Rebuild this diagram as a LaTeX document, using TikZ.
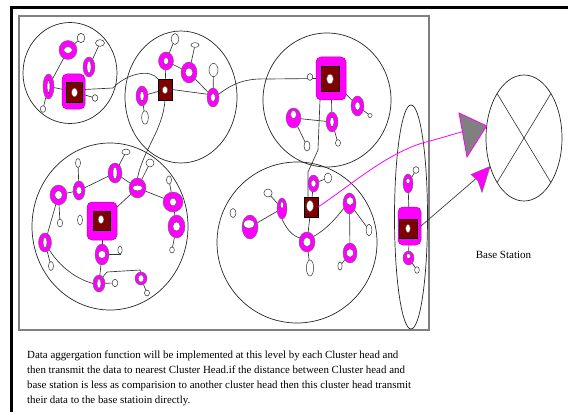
\documentclass[tikz,border=0pt]{standalone}
\usepackage{fontspec}
\setmainfont{Liberation Serif}
\usetikzlibrary{shapes.geometric,calc}
\definecolor{chred}{HTML}{800000}
\definecolor{pk}{HTML}{FF00FF}
\definecolor{ln}{HTML}{333333}
\pgfdeclarelayer{bg}
\pgfsetlayers{bg,main}
\tikzset{
  clus/.style={ellipse, draw=black!85, line width=0.7pt, inner sep=0pt, outer sep=0pt},
  pnk/.style={ellipse, draw=black!60, fill=pk, line width=0.4pt, inner sep=0pt, outer sep=0pt},
  hole/.style={ellipse, draw=black!70, fill=white, line width=0.4pt, inner sep=0pt, outer sep=0pt},
  sml/.style={ellipse, draw=black!80, fill=white, line width=0.5pt, inner sep=0pt, outer sep=0pt},
  chp/.style={rectangle, rounded corners=5pt, fill=pk, draw=pk!70!black, line width=0.5pt, inner sep=0pt, outer sep=0pt},
  chr/.style={rectangle, fill=chred, draw=black, line width=0.5pt, inner sep=0pt, outer sep=0pt},
  lnk/.style={draw=ln, line width=0.65pt},
  txt/.style={font=\fontsize{10.9}{13}\selectfont, inner sep=0pt, anchor=base west},
}
\newcommand\PN[9]{\node[pnk,minimum width=#4pt,minimum height=#5pt] (#1) at (#2,#3) {};\node[hole,minimum width=#8pt,minimum height=#9pt] (#1h) at (#6,#7) {};}
\newcommand\SN[5]{\node[sml,minimum width=#4pt,minimum height=#5pt] (#1) at (#2,#3) {};}
\begin{document}
\begin{tikzpicture}[x=1pt,y=-1pt]
\useasboundingbox (0,0) rectangle (568,412);
% frames
\draw[line width=2.5pt] (11.3,415) -- (11.3,7.3) -- (570,7.3);
\draw[gray, line width=1.2pt] (19,16) rectangle (429,330);
% cluster circles
\node[clus, minimum width=94pt, minimum height=101pt] (c1) at (70,73) {};
\node[clus, minimum width=112pt, minimum height=132pt] (c2) at (181,97) {};
\node[clus, minimum width=128pt, minimum height=134pt] (c3) at (327,100) {};
\node[clus, minimum width=156pt, minimum height=167pt] (c4) at (110,226.5) {};
\node[clus, minimum width=160pt, minimum height=161pt] (c5) at (297,242.5) {};
\node[clus, minimum width=33pt, minimum height=224pt] (c6) at (411,217) {};
% base station
\node[clus, minimum width=76pt, minimum height=126pt] (bs) at (524,138) {};
\draw[ln, line width=0.6pt] ($(bs.center)+(-26.9,-44.5)$) -- ($(bs.center)+(26.9,44.5)$);
\draw[ln, line width=0.6pt] ($(bs.center)+(26.9,-44.5)$) -- ($(bs.center)+(-26.9,44.5)$);
\node[font=\fontsize{11}{13}\selectfont, inner sep=0pt, anchor=base] (bst) at (503.5,258.5) {Base Station};

% ---- cluster 1
\node[chp, minimum width=23pt, minimum height=35pt] (ch1) at (73.5,91.5) {};
\node[chr, minimum width=16pt, minimum height=20pt] (ch1r) at (74,92) {};
\node[hole, minimum width=6pt, minimum height=9pt] (ch1h) at (74.5,92.5) {};
\PN{a1}{68}{50}{18}{19}{68}{50}{8.7}{6.7}
\PN{a2}{89}{67}{12}{20}{89}{67}{4}{13}
\PN{a3}{48.5}{86.5}{11}{25}{48.5}{86.5}{2.7}{12.7}
\SN{sa1}{81}{38}{7.7}{9.3}
\SN{sa2}{100}{43}{9}{6.7}
\SN{sa3}{95}{98}{5.7}{6.7}
\SN{sa4}{43}{109}{5.3}{6.7}
% ---- cluster 2
\node[chr, minimum width=14pt, minimum height=21pt] (ch2) at (165,89.5) {};
\node[hole, minimum width=5.3pt, minimum height=7.3pt] (ch2h) at (165,90) {};
\PN{b1}{166}{61}{15}{18}{166}{61}{5}{7}
\PN{b2}{189}{72.5}{16}{21}{189}{72.5}{7.7}{9}
\PN{b3}{142}{96}{12}{20}{142}{96}{4}{10}
\PN{b4}{213}{97.5}{12}{19}{213}{97.5}{4.7}{8}
\SN{sb1}{175}{39}{7.7}{11}
\SN{sb2}{195}{45}{8.3}{4.7}
\SN{sb3}{213.5}{70}{9}{13.3}
\SN{sb4}{145}{117.5}{6.7}{13.3}
% ---- cluster 3
\node[chp, minimum width=30pt, minimum height=43pt] (ch3) at (331,78.5) {};
\node[chr, minimum width=18pt, minimum height=25pt] (ch3r) at (330,78.5) {};
\node[hole, minimum width=6.7pt, minimum height=10pt] (ch3h) at (330,79) {};
\PN{e1}{357.5}{106}{13}{20}{357.5}{106}{5.3}{8.3}
\PN{e2}{293.5}{118}{15}{20}{293.5}{114.5}{5.7}{8.3}
\PN{e3}{332}{122}{12}{20}{332}{122}{4}{10}
\SN{se0}{310}{77}{5.7}{6.7}
\SN{se1}{370}{115.5}{4.3}{4}
\SN{se2}{307}{146}{6}{10}
\SN{se3}{338}{143}{5}{6.7}
% ---- cluster 4
\node[chp, minimum width=30pt, minimum height=38pt] (ch4) at (102,221) {};
\node[chr, minimum width=17pt, minimum height=19pt] (ch4r) at (101.5,220.5) {};
\node[hole, minimum width=5.7pt, minimum height=8.3pt] (ch4h) at (101,219.5) {};
\PN{d1}{58.5}{195}{17}{20}{58.5}{195}{7.7}{8.7}
\PN{d2}{79}{190.5}{12}{19}{79}{190.5}{5.7}{7.7}
\PN{d3}{115}{173}{14}{20}{115}{173}{4}{12.7}
\PN{d4}{137.5}{188}{17}{20}{137.5}{188}{10}{5.7}
\PN{d5}{173}{202}{20}{20}{173}{202}{6.7}{7.7}
\PN{d6}{176.5}{226.5}{17}{23}{176.5}{226.5}{7.3}{9}
\PN{d7}{102}{254.5}{14}{21}{102}{254.5}{7.7}{7.7}
\PN{d8}{45}{242.5}{13}{19}{45}{242.5}{4}{10.7}
\PN{d9}{99}{283.5}{12}{17}{99}{283.5}{4}{10}
\PN{d10}{141}{278.5}{12}{13}{141}{278.5}{5.7}{7.3}
\SN{sd1}{78}{163}{5}{9}
\SN{sd2}{126}{152}{8.3}{5.7}
\SN{sd3}{150}{163}{8}{8}
\SN{sd4}{169}{180}{5}{8.3}
\SN{sd5}{60}{223}{5.3}{8}
\SN{sd6}{80}{220}{5}{10}
\SN{sd7}{120}{250}{4.3}{8}
\SN{sd8}{172}{250}{4.7}{6}
\SN{sd9}{51}{266}{5}{9}
\SN{sd10}{115}{283}{5.7}{7.3}
\SN{sd11}{147}{293}{5}{6}
% ---- cluster 5
\node[chr, minimum width=14pt, minimum height=20pt] (ch5) at (311,207) {};
\node[hole, minimum width=6.7pt, minimum height=11.7pt] (ch5h) at (310,206) {};
\PN{f1}{313.5}{183.5}{11}{17}{313.5}{183.5}{5}{7.3}
\PN{f2}{282}{208.5}{10}{21}{282}{205}{3.3}{6.7}
\PN{f3}{250}{227}{16}{24}{249}{224}{11.7}{8.3}
\PN{f4}{307}{242}{16}{20}{307}{242}{7.7}{9}
\PN{f5}{349.5}{203.5}{13}{21}{350}{201}{7.3}{8.3}
\PN{f6}{350}{253}{14}{20}{350}{253}{7.3}{8.3}
\SN{sf1}{328}{178}{7.7}{10}
\SN{sf2}{268}{193}{8.3}{8}
\SN{sf3}{233}{213}{6}{9}
\SN{sf4}{310}{268}{7.3}{16}
\SN{sf5}{369}{230}{5.7}{11.7}
\SN{sf6}{340}{266}{4.3}{8.3}
% ---- cluster 6
\node[chp, minimum width=23pt, minimum height=38pt] (ch6) at (409.5,226) {};
\node[chr, minimum width=18pt, minimum height=19pt] (ch6r) at (408,228.5) {};
\node[hole, minimum width=4.7pt, minimum height=8.3pt] (ch6h) at (408,228.5) {};
\PN{g1}{408}{183.5}{10}{19}{408}{181}{4}{5}
\PN{g2}{408.5}{258}{11}{14}{408.5}{256}{4}{5}
\SN{sg1}{416}{170}{6}{6.7}
\SN{sg2}{417}{270}{4.7}{6.7}

% ---- links
\begin{pgfonlayer}{bg}
% cluster 1
\draw[lnk] (ch1) -- (a3);
\draw[lnk] (a3) -- (a1);
\draw[lnk] (a1) -- (sa1);
\draw[lnk] (a2) -- (sa2);
\draw[lnk] (a2) -- (ch1);
\draw[lnk] (ch1) -- (sa3);
\draw[lnk] (a3) -- (sa4);
\draw[lnk] (ch1.10) -- (113,88) .. controls (126,74) and (150,68) .. (ch2.north west);
% cluster 2
\draw[lnk] (ch2) -- (b3);
\draw[lnk] (ch2) -- (b1);
\draw[lnk] (b1) -- (sb1);
\draw[lnk] (b1) -- (b2);
\draw[lnk] (ch2.east) -- (b4.150);
\draw[lnk] (b2) -- (sb2);
\draw[lnk] (b2) -- (b4);
\draw[lnk] (sb3) -- (b4);
\draw[lnk] (b3) -- (sb4);
\draw[lnk] (b4.30) .. controls (232,84) and (245,78) .. (268,79) -- (ch3.west);
\draw[lnk] (ch2.south) .. controls (163,130) and (143,150) .. (d4.north);
% cluster 3
\draw[lnk] (ch3) -- (e1);
\draw[lnk] (e1) -- (se1);
\draw[lnk] (e2) -- (e3);
\draw[lnk] (e2) -- (se2);
\draw[lnk] (e3) -- (se3);
\draw[lnk] (ch3) -- (e3);
\draw[lnk] ([xshift=4pt]ch3.south west) -- (318,150) -- (308,172) -- ([xshift=-3pt]ch5.north);
% cluster 4
\draw[lnk] (d1) -- (d2);
\draw[lnk] (d2) -- (sd1);
\draw[lnk] (d2) -- (d3);
\draw[lnk] (d3) -- (sd2);
\draw[lnk] (d3) -- (d4);
\draw[lnk] (d4) -- (sd3);
\draw[lnk] (d4) -- (d5);
\draw[lnk] (d5) -- (sd4);
\draw[lnk] (d5) -- (d6);
\draw[lnk] (d6) -- (sd8);
\draw[lnk] (d4) -- (ch4);
\draw[lnk] (d1) -- (sd5);
\draw[lnk] (d1) -- (d8);
\draw[lnk] (d8) -- (sd9);
\draw[lnk] (d8.-60) .. controls (62,270) and (80,280) .. (d9.west);
\draw[lnk] (ch4) -- (d7);
\draw[lnk] (d7.east) -| (sd7.south);
\draw[lnk] (d7) -- (d9);
\draw[lnk] (d9) -- (sd10);
\draw[lnk] (d9.60) -- (107,272) -- (140,270) -- (d10.north);
\draw[lnk] (d10) -- (sd11);
% cluster 5
\draw[lnk] (ch5) -- (f1);
\draw[lnk] (f1) -- (sf1);
\draw[lnk] (ch5) -- (f4);
\draw[lnk] (f2.south) .. controls (286,228) and (292,236) .. (f4.150);
\draw[lnk] (f2) -- (sf2);
\draw[lnk] (f2) -- (f3);
\draw[lnk] (f4.40) .. controls (328,228) and (336,218) .. (f5.220);
\draw[lnk] (f4) -- (sf4);
\draw[lnk] (f5) -- (f6);
\draw[lnk] (f5) -- (sf5);
\draw[lnk] (f6) -- (sf6);
% cluster 6
\draw[lnk] (g1) -- (ch6);
\draw[lnk] (ch6) -- (g2);
\draw[lnk] (g1) -- (sg1);
\draw[lnk] (g2) -- (sg2);
\end{pgfonlayer}

% ---- to base station
\draw[pk, line width=0.8pt] (ch5.east) .. controls (350,186) and (390,150) .. (430,141) .. controls (455,134) and (470,129) .. (bs.162);
\filldraw[fill=gray, draw=pk, line width=0.8pt] (bs.162) -- (459,113) -- (467,157) -- cycle;
\draw[lnk] (ch6.east) -- (bs.220);
\filldraw[fill=pk, draw=black!60, line width=0.4pt] (bs.220) -- (471,174.5) -- (478,181) -- (482,192.5) -- cycle;

% ---- text
\node[txt] (t1) at (27,358) {Data aggergation function will be implemented at this level by each Cluster head and};
\node[txt] (t2) at (27,373) {then transmit the data to nearest Cluster Head.if the distance between Cluster head and};
\node[txt] (t3) at (27,388) {base station is less as comparision to another cluster head then this cluster head transmit};
\node[txt] (t4) at (27,403) {their data to the base statioin directly.};
\end{tikzpicture}
\end{document}
